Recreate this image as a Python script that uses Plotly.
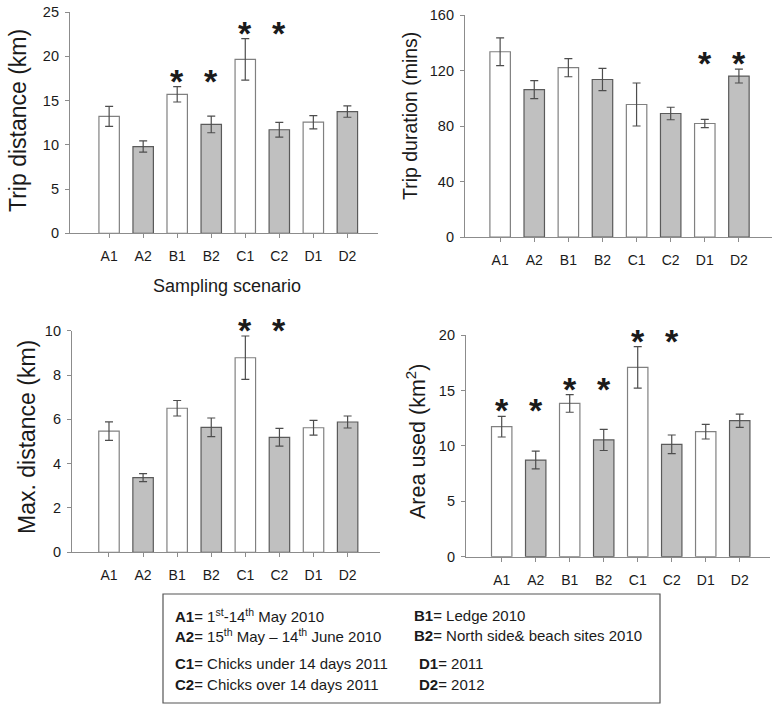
import plotly.graph_objects as go

categories = ["A1", "A2", "B1", "B2", "C1", "C2", "D1", "D2"]

trip_distance = [13.2, 9.8, 15.7, 12.3, 19.65, 11.7, 12.55, 13.75]
trip_distance_err = [1.13, 0.64, 0.87, 0.94, 2.34, 0.83, 0.75, 0.64]
trip_distance_sig = [False, False, True, True, True, True, False, False]

trip_duration = [133.5, 106.2, 122.0, 113.5, 95.5, 89.0, 81.8, 116.0]
trip_duration_err = [10.0, 6.5, 6.5, 8.0, 15.5, 4.5, 3.0, 5.0]
trip_duration_sig = [False, False, False, False, False, False, True, True]

max_distance = [5.47, 3.37, 6.5, 5.64, 8.78, 5.19, 5.62, 5.88]
max_distance_err = [0.42, 0.18, 0.35, 0.42, 0.98, 0.4, 0.33, 0.27]
max_distance_sig = [False, False, False, False, True, True, False, False]

area_used = [11.73, 8.72, 13.83, 10.53, 17.08, 10.14, 11.28, 12.27]
area_used_err = [0.93, 0.8, 0.8, 0.95, 1.87, 0.84, 0.66, 0.6]
area_used_sig = [True, True, True, True, True, True, False, False]

y_titles = ["Trip distance (km)", "Trip duration (mins)", "Max. distance (km)", "Area used (km<sup>2</sup>)"]
y_ticks = [[0, 5, 10, 15, 20, 25], [0, 40, 80, 120, 160], [0, 2, 4, 6, 8, 10], [0, 5, 10, 15, 20]]

legend_rows = [
    ("<b>A1</b>= 1<sup>st</sup>-14<sup>th</sup> May 2010", "<b>B1</b>= Ledge 2010"),
    ("<b>A2</b>= 15<sup>th</sup> May – 14<sup>th</sup> June 2010", "<b>B2</b>= North side& beach sites 2010"),
    ("<b>C1</b>= Chicks under 14 days 2011", "<b>D1</b>= 2011"),
    ("<b>C2</b>= Chicks over 14 days 2011", "<b>D2</b>= 2012"),
]

W, H = 777, 705
FONT = "Liberation Sans, Arial, sans-serif"

def px_x(p):
    return p / W

def px_y(p):
    return 1 - p / H

panels = [
    dict(vals=trip_distance, err=trip_distance_err, sig=trip_distance_sig,
         box=(70, 378, 12, 233.3), xr=[-1.15, 7.9], yr=[0, 25], tx=18, ty=121, ts=23),
    dict(vals=trip_duration, err=trip_duration_err, sig=trip_duration_sig,
         box=(465, 772, 15, 237), xr=[-1.03, 7.97], yr=[0, 160], tx=410, ty=116, ts=19.5),
    dict(vals=max_distance, err=max_distance_err, sig=max_distance_sig,
         box=(72, 380, 330.7, 552.3), xr=[-1.085, 7.95], yr=[0, 10], tx=27, ty=437, ts=23),
    dict(vals=area_used, err=area_used_err, sig=area_used_sig,
         box=(466, 770, 335, 556.7), xr=[-1.05, 7.89], yr=[0, 20], tx=416, ty=442, ts=21.5),
]

fig = go.Figure()
annotations = []
shapes = []
fill_colors = ["#ffffff" if i % 2 == 0 else "#c0c0c0" for i in range(len(categories))]
line_colors = ["#808080" if i % 2 == 0 else "#5a5a5a" for i in range(len(categories))]

for k, p in enumerate(panels):
    n = "" if k == 0 else str(k + 1)
    xa, ya = "x" + n, "y" + n
    fig.add_trace(go.Bar(
        x=categories, y=p["vals"], xaxis=xa, yaxis=ya, width=0.6,
        marker=dict(color=fill_colors, line=dict(color=line_colors, width=1.2)),
        error_y=dict(type="data", array=p["err"], color="#4d4d4d", thickness=1.2, width=4),
        showlegend=False, hoverinfo="skip",
    ))
    x0, x1, yt, yb = p["box"]
    fig.layout["xaxis" + n] = dict(
        domain=[px_x(x0), px_x(x1)], anchor=ya, range=p["xr"], type="category",
        showline=True, linecolor="#8c8c8c", linewidth=1.2, ticks="outside", ticklen=4,
        tickcolor="#8c8c8c", tickfont=dict(family=FONT, size=14, color="#1a1a1a"),
        showgrid=False, zeroline=False, fixedrange=True, ticklabelstandoff=6,
        automargin=False,
    )
    fig.layout["yaxis" + n] = dict(
        domain=[px_y(yb), px_y(yt)], anchor=xa, range=p["yr"], tickvals=y_ticks[k],
        showline=True, linecolor="#8c8c8c", linewidth=1.2, ticks="outside", ticklen=4,
        tickcolor="#8c8c8c", tickfont=dict(family=FONT, size=14.5, color="#1a1a1a"),
        showgrid=False, zeroline=False, fixedrange=True, ticklabelstandoff=3,
        automargin=False,
    )
    annotations.append(dict(
        text=y_titles[k], x=px_x(p["tx"]), y=px_y(p["ty"]), xref="paper", yref="paper",
        xanchor="center", yanchor="middle", textangle=-90, showarrow=False,
        font=dict(family=FONT, size=p["ts"], color="#1a1a1a"),
    ))
    # significance stars: placed above the higher error bar of each pair
    tops = [v + e for v, e in zip(p["vals"], p["err"])]
    for i, s in enumerate(p["sig"]):
        if s:
            j = (i // 2) * 2
            ystar = max(tops[j], tops[j + 1])
            annotations.append(dict(
                text="<b>*</b>", x=categories[i], y=ystar, xref=xa, yref=ya,
                xanchor="center", yanchor="middle", yshift=6, showarrow=False,
                font=dict(family=FONT, size=34, color="#1a1a1a"),
            ))

annotations.append(dict(
    text="Sampling scenario", x=px_x(227), y=px_y(286), xref="paper", yref="paper",
    xanchor="center", yanchor="middle", showarrow=False,
    font=dict(family=FONT, size=18, color="#1a1a1a"),
))

shapes.append(dict(type="rect", xref="paper", yref="paper",
                   x0=px_x(163), x1=px_x(660), y0=px_y(703), y1=px_y(594),
                   line=dict(color="#555555", width=1.2), fillcolor="rgba(0,0,0,0)"))
row_y = [615, 635, 663, 684]
right_x = [412, 412, 417, 417]
for r, (left, right) in enumerate(legend_rows):
    annotations.append(dict(text=left, x=px_x(173), y=px_y(row_y[r]), xref="paper", yref="paper",
                            xanchor="left", yanchor="middle", showarrow=False,
                            font=dict(family=FONT, size=15, color="#1a1a1a")))
    annotations.append(dict(text=right, x=px_x(right_x[r]), y=px_y(row_y[r]), xref="paper", yref="paper",
                            xanchor="left", yanchor="middle", showarrow=False,
                            font=dict(family=FONT, size=15, color="#1a1a1a")))

fig.update_layout(
    width=W, height=H, margin=dict(l=0, r=0, t=0, b=0, autoexpand=False),
    paper_bgcolor="white", plot_bgcolor="white",
    annotations=annotations, shapes=shapes, showlegend=False,
    font=dict(family=FONT),
)

fig.write_html("out.html", config={"displayModeBar": False},
               post_script="document.body.style.margin='0px';document.body.style.overflow='hidden';")
